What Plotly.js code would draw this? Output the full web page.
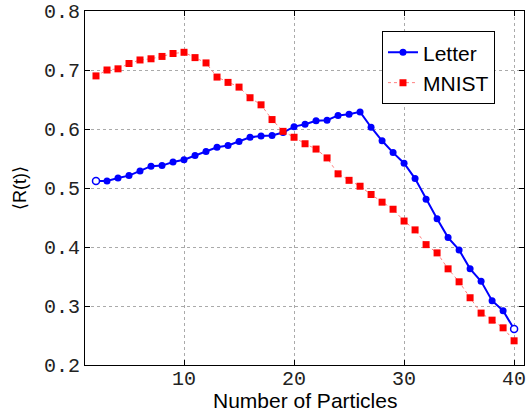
<!DOCTYPE html>
<html><head><meta charset="utf-8">
<script src="https://cdn.plot.ly/plotly-3.0.1.min.js"></script>
<style>body{margin:0;background:#fff}#c{width:528px;height:413px}</style>
</head><body><div id="c"></div>
<script>
const particles = [2,3,4,5,6,7,8,9,10,11,12,13,14,15,16,17,18,19,20,21,22,23,24,25,26,27,28,29,30,31,32,33,34,35,36,37,38,39,40];
const letter = [0.512,0.512,0.517,0.521,0.529,0.537,0.538,0.544,0.548,0.555,0.562,0.569,0.572,0.579,0.586,0.588,0.589,0.594,0.604,0.608,0.614,0.615,0.623,0.625,0.629,0.603,0.580,0.560,0.542,0.516,0.481,0.448,0.416,0.395,0.363,0.342,0.309,0.292,0.261];
const mnist = [0.690,0.700,0.702,0.711,0.717,0.719,0.723,0.728,0.730,0.721,0.712,0.688,0.679,0.671,0.653,0.641,0.616,0.596,0.586,0.575,0.566,0.551,0.524,0.513,0.503,0.489,0.476,0.464,0.444,0.429,0.404,0.390,0.363,0.341,0.314,0.288,0.276,0.263,0.241];
const xTicks = [10,20,30,40];
const yTicks = [0.2,0.3,0.4,0.5,0.6,0.7,0.8];
const yTickText = ['0.2','0.3','0.4','0.5','0.6','0.7','0.8'];
const xTitle = 'Number of Particles';
const yTitle = '\u27E8R(t)\u27E9';

const lastI = particles.length - 1;

const traces = [
  {x: particles, y: letter, name: 'Letter', type: 'scatter', mode: 'lines+markers',
   line: {color: '#0000ff', width: 2},
   marker: {color: '#0000ff', size: 7, symbol: 'circle'}},
  {x: [particles[0], particles[lastI]], y: [letter[0], letter[lastI]], name: 'Letter ends',
   type: 'scatter', mode: 'markers', showlegend: false,
   marker: {color: '#ffffff', size: 7, symbol: 'circle', line: {color: '#0000ff', width: 1.5}}},
  {x: particles, y: mnist, name: 'MNIST', type: 'scatter', mode: 'lines+markers',
   line: {color: '#ff8080', width: 1, dash: 'dot'},
   marker: {color: '#ff0000', size: 7, symbol: 'square'}}
];

const axisCommon = {
  showline: true, linecolor: '#000', linewidth: 1, mirror: 'ticks',
  ticks: 'inside', ticklen: 5, tickcolor: '#000', tickwidth: 1,
  showgrid: true, gridcolor: '#aaaaaa', griddash: 'dot', gridwidth: 1,
  zeroline: false,
  tickfont: {family: 'Liberation Mono, Courier New, monospace', size: 20, color: '#222'}
};

const layout = {
  width: 528, height: 413,
  margin: {l: 85, r: 4, t: 11, b: 48},
  paper_bgcolor: '#fff', plot_bgcolor: '#fff',
  showlegend: true,
  legend: {x: 0.6765, y: 0.943, xanchor: 'left', yanchor: 'top',
    bordercolor: '#000', borderwidth: 1, bgcolor: '#fff',
    font: {family: 'Liberation Sans, Arial, sans-serif', size: 21, color: '#000'},
    tracegroupgap: 0, itemwidth: 30, entrywidth: 25, entrywidthmode: 'pixels'},
  xaxis: Object.assign({}, axisCommon, {
    range: [1, 40.9], tickmode: 'array', tickvals: xTicks, ticktext: xTicks.map(String),
    ticklabelstandoff: -5
  }),
  yaxis: Object.assign({}, axisCommon, {
    range: [0.2, 0.8], tickmode: 'array', tickvals: yTicks, ticktext: yTickText,
    title: {text: yTitle, standoff: 12,
      font: {family: 'Liberation Sans, DejaVu Sans, sans-serif', size: 18, color: '#000'}}
  }),
  annotations: [
    {text: xTitle, xref: 'paper', yref: 'paper', x: 0.5, y: -0.062, xanchor: 'center', yanchor: 'top',
     showarrow: false, font: {family: 'Liberation Sans, Arial, sans-serif', size: 21, color: '#000'}}
  ]
};

Plotly.newPlot('c', traces, layout, {displayModeBar: false, staticPlot: true});
</script></body></html>
